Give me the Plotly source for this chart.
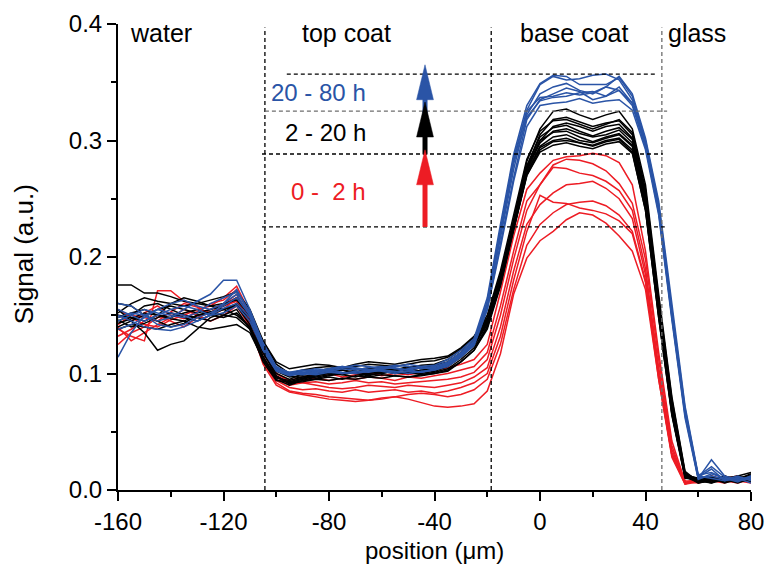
import plotly.graph_objects as go

# ---------------- data ----------------
positions = [-160, -155, -150, -145, -140, -135, -130, -125, -120, -115,
             -110, -105, -100, -95, -90, -85, -80, -75, -70, -65,
             -60, -55, -50, -45, -40, -35, -30, -25, -20, -15,
             -10, -5, 0, 5, 10, 15, 20, 25, 30, 35,
             40, 45, 50, 55, 60, 65, 70, 75, 80]

red_0_2h = [
    [0.150,0.145,0.152,0.158,0.150,0.147,0.153,0.160,0.163,0.172, 0.150,0.118,0.100,0.094,0.097,0.099,0.100,0.097,0.099,0.101,
     0.098,0.100,0.099,0.101,0.103,0.105,0.108,0.112,0.125,0.170, 0.218,0.258,0.272,0.283,0.286,0.287,0.289,0.287,0.281,0.262,
     0.205,0.118,0.042,0.007,0.006,0.009,0.011,0.008,0.010],
    [0.138,0.132,0.128,0.171,0.171,0.162,0.158,0.150,0.155,0.165, 0.148,0.120,0.098,0.092,0.095,0.096,0.094,0.096,0.095,0.097,
     0.096,0.094,0.097,0.096,0.098,0.100,0.103,0.106,0.118,0.158, 0.205,0.248,0.262,0.279,0.284,0.283,0.280,0.274,0.263,0.246,
     0.198,0.112,0.038,0.006,0.008,0.010,0.007,0.009,0.011],
    [0.142,0.150,0.148,0.145,0.153,0.160,0.157,0.150,0.158,0.162, 0.145,0.115,0.097,0.090,0.092,0.093,0.091,0.092,0.094,0.092,
     0.093,0.091,0.092,0.093,0.094,0.095,0.097,0.101,0.112,0.150, 0.198,0.240,0.262,0.277,0.276,0.272,0.270,0.265,0.257,0.240,
     0.190,0.105,0.035,0.006,0.011,0.008,0.006,0.010,0.008],
    [0.155,0.148,0.142,0.140,0.146,0.150,0.155,0.158,0.165,0.175, 0.152,0.120,0.100,0.093,0.092,0.090,0.088,0.087,0.088,0.090,
     0.089,0.088,0.090,0.089,0.088,0.090,0.092,0.097,0.105,0.140, 0.188,0.228,0.245,0.255,0.262,0.263,0.265,0.259,0.250,0.233,
     0.185,0.100,0.032,0.008,0.007,0.012,0.009,0.007,0.009],
    [0.125,0.135,0.140,0.148,0.152,0.150,0.148,0.152,0.160,0.168, 0.146,0.112,0.094,0.088,0.086,0.087,0.085,0.084,0.086,0.084,
     0.085,0.086,0.084,0.085,0.083,0.085,0.088,0.092,0.100,0.132, 0.180,0.222,0.253,0.247,0.246,0.242,0.240,0.237,0.231,0.220,
     0.178,0.095,0.030,0.005,0.009,0.007,0.010,0.012,0.007],
    [0.140,0.128,0.135,0.142,0.148,0.155,0.150,0.145,0.150,0.158, 0.140,0.110,0.092,0.085,0.083,0.082,0.080,0.079,0.078,0.077,
     0.078,0.080,0.082,0.083,0.082,0.080,0.082,0.086,0.095,0.125, 0.172,0.210,0.228,0.238,0.245,0.247,0.248,0.244,0.236,0.222,
     0.180,0.098,0.030,0.006,0.008,0.011,0.008,0.006,0.010],
    [0.132,0.138,0.145,0.150,0.145,0.140,0.148,0.155,0.160,0.165, 0.142,0.108,0.090,0.084,0.082,0.080,0.078,0.077,0.076,0.077,
     0.079,0.080,0.078,0.075,0.072,0.071,0.072,0.074,0.085,0.117, 0.168,0.199,0.214,0.222,0.232,0.238,0.236,0.229,0.218,0.205,
     0.172,0.095,0.028,0.005,0.007,0.009,0.012,0.008,0.006],
]

black_2_20h = [
    [0.176,0.176,0.169,0.169,0.166,0.162,0.160,0.158,0.160,0.163, 0.150,0.128,0.110,0.104,0.106,0.108,0.107,0.105,0.108,0.110,
     0.109,0.108,0.110,0.112,0.113,0.115,0.122,0.132,0.148,0.185, 0.232,0.282,0.310,0.325,0.327,0.322,0.318,0.322,0.325,0.310,
     0.262,0.168,0.080,0.016,0.007,0.010,0.008,0.012,0.015],
    [0.155,0.145,0.135,0.120,0.125,0.128,0.138,0.148,0.152,0.160, 0.145,0.118,0.098,0.092,0.095,0.098,0.100,0.099,0.101,0.100,
     0.102,0.101,0.100,0.103,0.104,0.108,0.115,0.125,0.145,0.182, 0.230,0.278,0.305,0.318,0.320,0.316,0.312,0.315,0.317,0.305,
     0.255,0.160,0.075,0.014,0.009,0.006,0.011,0.009,0.012],
    [0.148,0.152,0.155,0.150,0.148,0.152,0.155,0.150,0.148,0.152, 0.140,0.118,0.100,0.095,0.100,0.102,0.104,0.103,0.101,0.104,
     0.106,0.104,0.103,0.105,0.107,0.110,0.118,0.128,0.146,0.184, 0.228,0.276,0.300,0.312,0.315,0.312,0.308,0.312,0.314,0.302,
     0.250,0.158,0.072,0.012,0.006,0.008,0.012,0.007,0.009],
    [0.140,0.145,0.150,0.155,0.158,0.155,0.152,0.155,0.158,0.165, 0.150,0.125,0.105,0.098,0.096,0.098,0.101,0.103,0.100,0.098,
     0.101,0.103,0.102,0.100,0.102,0.106,0.114,0.126,0.144,0.180, 0.226,0.274,0.298,0.308,0.310,0.306,0.303,0.305,0.309,0.298,
     0.248,0.155,0.070,0.013,0.010,0.009,0.007,0.010,0.013],
    [0.160,0.158,0.150,0.145,0.140,0.143,0.150,0.153,0.155,0.158, 0.142,0.112,0.095,0.090,0.094,0.097,0.099,0.100,0.102,0.099,
     0.100,0.102,0.104,0.102,0.105,0.109,0.116,0.124,0.142,0.178, 0.224,0.272,0.295,0.303,0.305,0.300,0.298,0.302,0.305,0.295,
     0.245,0.152,0.068,0.012,0.008,0.011,0.009,0.006,0.010],
    [0.145,0.150,0.158,0.160,0.155,0.150,0.148,0.145,0.150,0.155, 0.138,0.110,0.094,0.093,0.096,0.099,0.101,0.099,0.097,0.100,
     0.102,0.100,0.101,0.099,0.101,0.104,0.112,0.122,0.140,0.176, 0.222,0.270,0.292,0.299,0.300,0.298,0.296,0.300,0.302,0.292,
     0.242,0.150,0.066,0.011,0.007,0.009,0.010,0.008,0.011],
    [0.150,0.148,0.145,0.150,0.160,0.165,0.162,0.158,0.155,0.160, 0.148,0.122,0.102,0.097,0.098,0.096,0.098,0.100,0.103,0.105,
     0.104,0.103,0.105,0.107,0.108,0.112,0.120,0.130,0.147,0.183, 0.230,0.278,0.303,0.311,0.313,0.308,0.304,0.308,0.311,0.301,
     0.252,0.158,0.073,0.013,0.008,0.006,0.009,0.011,0.008],
    [0.138,0.142,0.140,0.138,0.142,0.145,0.140,0.138,0.140,0.142, 0.135,0.112,0.098,0.091,0.094,0.095,0.097,0.095,0.098,0.097,
     0.099,0.098,0.097,0.099,0.100,0.103,0.110,0.120,0.138,0.175, 0.224,0.272,0.294,0.300,0.302,0.298,0.295,0.299,0.301,0.290,
     0.240,0.148,0.064,0.010,0.009,0.012,0.008,0.010,0.007],
    [0.152,0.160,0.165,0.162,0.160,0.158,0.160,0.163,0.166,0.170, 0.155,0.128,0.108,0.100,0.103,0.105,0.106,0.104,0.106,0.108,
     0.107,0.106,0.108,0.110,0.111,0.114,0.121,0.131,0.150,0.188, 0.236,0.284,0.308,0.317,0.318,0.314,0.310,0.314,0.318,0.307,
     0.258,0.164,0.078,0.015,0.006,0.009,0.012,0.009,0.014],
    [0.146,0.140,0.143,0.148,0.152,0.148,0.145,0.150,0.155,0.150, 0.140,0.115,0.096,0.094,0.097,0.100,0.102,0.105,0.104,0.102,
     0.100,0.103,0.106,0.104,0.103,0.107,0.115,0.126,0.143,0.180, 0.228,0.276,0.300,0.307,0.308,0.303,0.299,0.303,0.306,0.296,
     0.246,0.154,0.069,0.012,0.010,0.007,0.010,0.012,0.009],
    [0.143,0.147,0.152,0.150,0.147,0.145,0.150,0.152,0.150,0.148, 0.138,0.113,0.097,0.092,0.093,0.095,0.094,0.096,0.095,0.097,
     0.096,0.098,0.097,0.098,0.100,0.102,0.110,0.120,0.140,0.177, 0.224,0.270,0.290,0.296,0.298,0.295,0.293,0.297,0.299,0.289,
     0.240,0.148,0.065,0.011,0.008,0.010,0.006,0.009,0.012],
]

blue_20_80h = [
    [0.148,0.152,0.150,0.145,0.148,0.155,0.162,0.168,0.180,0.180, 0.155,0.126,0.106,0.100,0.102,0.104,0.103,0.105,0.107,0.106,
     0.104,0.106,0.108,0.106,0.107,0.112,0.120,0.130,0.165,0.228, 0.288,0.330,0.349,0.356,0.355,0.348,0.348,0.348,0.354,0.338,
     0.300,0.245,0.155,0.070,0.012,0.010,0.008,0.011,0.009],
    [0.114,0.135,0.150,0.155,0.152,0.150,0.145,0.150,0.160,0.172, 0.152,0.125,0.105,0.101,0.103,0.102,0.104,0.106,0.105,0.103,
     0.105,0.107,0.106,0.104,0.106,0.110,0.118,0.128,0.160,0.222, 0.282,0.326,0.348,0.355,0.352,0.353,0.356,0.357,0.352,0.335,
     0.298,0.240,0.150,0.066,0.010,0.026,0.012,0.009,0.011],
    [0.160,0.158,0.150,0.142,0.140,0.142,0.148,0.152,0.158,0.165, 0.150,0.122,0.103,0.099,0.101,0.100,0.102,0.104,0.103,0.105,
     0.106,0.104,0.103,0.105,0.104,0.108,0.116,0.126,0.158,0.215, 0.275,0.322,0.340,0.346,0.349,0.343,0.340,0.346,0.355,0.340,
     0.302,0.248,0.158,0.072,0.013,0.015,0.010,0.007,0.012],
    [0.150,0.145,0.140,0.138,0.137,0.140,0.145,0.150,0.156,0.160, 0.148,0.120,0.102,0.098,0.100,0.099,0.101,0.100,0.102,0.101,
     0.103,0.102,0.100,0.102,0.103,0.106,0.114,0.124,0.155,0.210, 0.268,0.318,0.335,0.340,0.345,0.342,0.335,0.338,0.346,0.332,
     0.296,0.242,0.152,0.068,0.011,0.018,0.008,0.010,0.006],
    [0.138,0.142,0.148,0.155,0.160,0.163,0.158,0.155,0.160,0.168, 0.150,0.124,0.104,0.100,0.099,0.101,0.103,0.101,0.100,0.102,
     0.104,0.105,0.103,0.101,0.104,0.108,0.116,0.127,0.162,0.225, 0.285,0.325,0.337,0.338,0.341,0.339,0.341,0.346,0.343,0.330,
     0.294,0.240,0.150,0.066,0.012,0.020,0.011,0.008,0.010],
    [0.145,0.150,0.155,0.152,0.150,0.148,0.152,0.160,0.165,0.170, 0.153,0.126,0.105,0.101,0.100,0.102,0.104,0.106,0.104,0.102,
     0.103,0.101,0.104,0.106,0.105,0.109,0.117,0.127,0.160,0.220, 0.280,0.320,0.334,0.337,0.338,0.341,0.342,0.338,0.343,0.332,
     0.295,0.238,0.148,0.064,0.010,0.012,0.009,0.012,0.008],
    [0.155,0.150,0.145,0.150,0.155,0.158,0.155,0.150,0.152,0.158, 0.145,0.120,0.103,0.099,0.101,0.103,0.102,0.100,0.101,0.103,
     0.102,0.100,0.102,0.101,0.103,0.107,0.115,0.125,0.155,0.208, 0.265,0.312,0.330,0.332,0.333,0.336,0.332,0.334,0.335,0.326,
     0.292,0.236,0.146,0.062,0.009,0.014,0.010,0.008,0.012],
]

x_tick_vals = [-160, -120, -80, -40, 0, 40, 80]
x_tick_text = ["-160", "-120", "-80", "-40", "0", "40", "80"]
y_tick_vals = [0.0, 0.1, 0.2, 0.3, 0.4]
y_tick_text = ["0.0", "0.1", "0.2", "0.3", "0.4"]

# layer boundaries (µm) and their labels
boundaries = [-104.3, -18.5, 46.2]
region_labels = ["water", "top coat", "base coat", "glass"]
region_label_x = [-143.7, -73.2, 12.9, 59.7]

# signal levels marked with dashed lines
levels = [0.2258, 0.2884, 0.3253, 0.357]
level_x_start = [-105.4, -105.4, -104.3, -96.0]
level_x_end = [47.3, 46.6, 48.2, 43.6]

group_labels = ["0 -\u00a0 2 h", "2 - 20 h", "20 - 80 h"]
group_label_y = [0.2558, 0.3073, 0.3416]

RED = "#ED1C24"
BLACK = "#000000"
BLUE = "#2A54A6"
FONT = "Liberation Sans, Arial, sans-serif"

fig = go.Figure()
for color, group in [(RED, red_0_2h), (BLACK, black_2_20h), (BLUE, blue_20_80h)]:
    for curve in group:
        fig.add_trace(go.Scatter(x=positions, y=curve, mode="lines",
                                 line=dict(color=color, width=1.5),
                                 showlegend=False, hoverinfo="skip"))

shapes = []
for bx, col in zip(boundaries, ["#000000", "#000000", "#6E6E6E"]):
    shapes.append(dict(type="line", xref="x", yref="y", x0=bx, x1=bx, y0=0, y1=0.397,
                       line=dict(color=col, width=1.3, dash="4px,3px")))
for lv, xs, xe, col in zip(levels, level_x_start, level_x_end,
                           ["#000000", "#000000", "#6E6E6E", "#000000"]):
    shapes.append(dict(type="line", xref="x", yref="y", x0=xs, x1=xe, y0=lv, y1=lv,
                       line=dict(color=col, width=1.3, dash="4px,3px")))

# arrows
arrow_x = -43.6
head_len = 0.03
half_w = 3.2
arrows = [(BLUE, 0.322, 0.365), (BLACK, 0.288, 0.333), (RED, levels[0], 0.292)]
for col, y0, tip in arrows:
    base = tip - head_len
    shapes.append(dict(type="line", xref="x", yref="y", x0=arrow_x, x1=arrow_x,
                       y0=y0, y1=base + 0.002, line=dict(color=col, width=5)))
    shapes.append(dict(type="path", xref="x", yref="y",
                       path=f"M {arrow_x - half_w},{base} L {arrow_x},{tip} L {arrow_x + half_w},{base} Z",
                       fillcolor=col, line=dict(color=col, width=0.5)))

annotations = []
for txt, xc in zip(region_labels, region_label_x):
    annotations.append(dict(x=xc, y=0.392, xref="x", yref="y", text=txt, showarrow=False,
                            xanchor="center", yanchor="middle",
                            font=dict(family=FONT, size=25, color="black")))
for txt, yc, col in zip(group_labels, group_label_y, [RED, BLACK, BLUE]):
    annotations.append(dict(x=-65.2, y=yc, xref="x", yref="y", text=txt, showarrow=False,
                            xanchor="right", yanchor="middle",
                            font=dict(family=FONT, size=24, color=col)))
annotations.append(dict(x=0.5, y=-0.1288, xref="paper", yref="paper", text="position (μm)",
                        showarrow=False, xanchor="center", yanchor="middle",
                        font=dict(family=FONT, size=24, color="black")))
annotations.append(dict(x=-0.149, y=0.505, xref="paper", yref="paper", text="Signal (a.u.)",
                        showarrow=False, xanchor="center", yanchor="middle", textangle=-90,
                        font=dict(family=FONT, size=26, color="black")))

fig.update_layout(
    width=765, height=571,
    margin=dict(l=118, r=14, t=24, b=81, autoexpand=False),
    paper_bgcolor="white", plot_bgcolor="white",
    shapes=shapes, annotations=annotations,
    font=dict(family=FONT, size=24, color="black"),
)
fig.update_xaxes(range=[-160, 80], tickmode="array", tickvals=x_tick_vals, ticktext=x_tick_text,
                 showline=True, linecolor="black", linewidth=2, automargin=False,
                 ticks="outside", ticklen=9, tickwidth=2, tickcolor="black",
                 minor=dict(ticks="outside", ticklen=5, tickwidth=2, tickcolor="black",
                            tickmode="linear", tick0=-160, dtick=20),
                 showgrid=False, zeroline=False,
                 tickfont=dict(family=FONT, size=24, color="black"))
fig.update_yaxes(range=[0, 0.4], tickmode="array", tickvals=y_tick_vals, ticktext=y_tick_text,
                 showline=True, linecolor="black", linewidth=2, automargin=False,
                 ticks="outside", ticklen=9, tickwidth=2, tickcolor="black",
                 minor=dict(ticks="outside", ticklen=5, tickwidth=2, tickcolor="black",
                            tickmode="linear", tick0=0, dtick=0.05),
                 showgrid=False, zeroline=False,
                 tickfont=dict(family=FONT, size=24, color="black"))

fig.write_html("out.html", config={"displayModeBar": False},
               post_script="document.body.style.margin='0';document.body.style.padding='0';")
